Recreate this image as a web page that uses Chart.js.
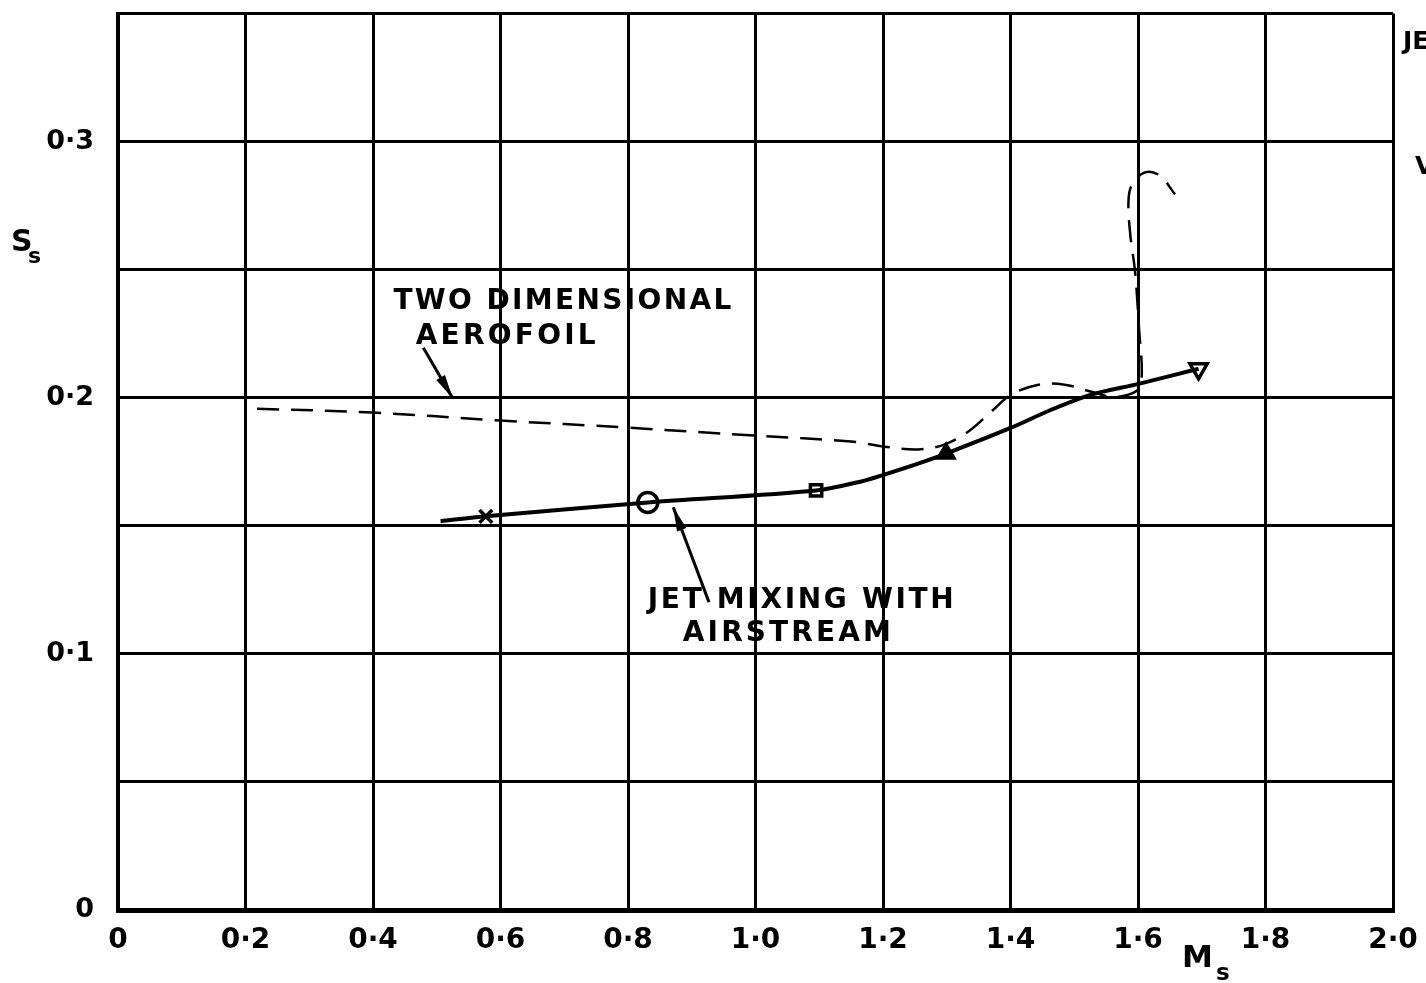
<!DOCTYPE html>
<html>
<head>
<meta charset="utf-8">
<title>Ss against Ms</title>
<script src="https://cdn.jsdelivr.net/npm/chart.js@4.4.1/dist/chart.umd.min.js"></script>
<style>
  html, body { margin: 0; padding: 0; background: #fff; }
  #wrap { width: 1426px; height: 983px; }
</style>
</head>
<body>
<div id="wrap"><canvas id="ssChart"></canvas></div>
<script>
// ---- data ----
// two dimensional aerofoil (dashed)
const aerofoilMs = [0.218, 0.399, 0.600, 0.800, 0.999, 1.150, 1.202, 1.255, 1.296, 1.334, 1.370, 1.401, 1.444, 1.485, 1.527, 1.559, 1.585, 1.601, 1.606, 1.602, 1.598, 1.595, 1.588, 1.585, 1.590, 1.610, 1.634, 1.658];
const aerofoilSs = [0.1957, 0.1942, 0.1911, 0.1883, 0.1852, 0.1829, 0.1809, 0.1798, 0.1817, 0.1868, 0.1946, 0.2012, 0.2051, 0.2051, 0.2023, 0.2004, 0.2012, 0.2035, 0.2101, 0.2257, 0.2412, 0.2502, 0.2634, 0.2763, 0.2829, 0.2879, 0.2868, 0.2794];

// jet mixing with airstream (solid)
const jetMs = [0.506, 0.577, 0.831, 1.095, 1.166, 1.202, 1.255, 1.299, 1.401, 1.464, 1.527, 1.601, 1.695];
const jetSs = [0.1518, 0.1537, 0.1591, 0.1638, 0.1673, 0.1700, 0.1743, 0.1782, 0.1883, 0.1953, 0.2012, 0.2054, 0.2113];

// test points along the jet curve
const testMs = [0.577, 0.831, 1.095, 1.299, 1.695];
const testSs = [0.1537, 0.1591, 0.1638, 0.1782, 0.2113];
const testSymbols = ['crossRot', 'circle', 'rect', 'triangle', 'triangle'];
const testRotation = [0, 0, 0, 0, 180];

const xTicks = [0, 0.2, 0.4, 0.6, 0.8, 1.0, 1.2, 1.4, 1.6, 1.8, 2.0];
const yTicks = [0, 0.1, 0.2, 0.3];

const pts = (xs, ys) => xs.map((x, i) => ({ x: x, y: ys[i] }));
const fmt = v => (Math.abs(v) < 1e-9 ? '0' : v.toFixed(1).replace('.', '·'));

const LETTER = '"DejaVu Sans", "Liberation Sans", sans-serif';

// text stretched out to a given width, like stencil lettering
function fitText(ctx, text, x, y, width, size) {
    ctx.font = 'bold ' + size + 'px ' + LETTER;
    ctx.letterSpacing = '0px';
    const w = ctx.measureText(text).width;
    const gap = text.length > 1 ? (width - w) / (text.length - 1) : 0;
    ctx.letterSpacing = gap + 'px';
    ctx.fillText(text, x, y);
    ctx.letterSpacing = '0px';
}

function arrow(ctx, x1, y1, x2, y2) {
    const a = Math.atan2(y2 - y1, x2 - x1);
    ctx.beginPath();
    ctx.moveTo(x1, y1);
    ctx.lineTo(x2, y2);
    ctx.lineWidth = 3;
    ctx.stroke();
    const L = 24, W = 5;
    ctx.beginPath();
    ctx.moveTo(x2, y2);
    ctx.lineTo(x2 - L * Math.cos(a) + W * Math.sin(a), y2 - L * Math.sin(a) - W * Math.cos(a));
    ctx.lineTo(x2 - L * Math.cos(a) - W * Math.sin(a), y2 - L * Math.sin(a) + W * Math.cos(a));
    ctx.closePath();
    ctx.fill();
}

// labels, arrows and axis names
const notes = {
    id: 'notes',
    afterDraw(chart) {
        const ctx = chart.ctx;
        const xs = chart.scales.x, ys = chart.scales.y;
        const X = v => xs.getPixelForValue(v), Y = v => ys.getPixelForValue(v);
        ctx.save();
        ctx.fillStyle = '#000';
        ctx.strokeStyle = '#000';
        ctx.textBaseline = 'alphabetic';
        ctx.textAlign = 'left';

        fitText(ctx, 'TWO DIMENSIONAL', X(0.432), Y(0.2346), 338, 28);
        fitText(ctx, 'AEROFOIL', X(0.467), Y(0.2210), 180, 28);
        arrow(ctx, X(0.479), Y(0.2195), X(0.525), Y(0.1998));

        fitText(ctx, 'JET MIXING WITH', X(0.831), Y(0.1179), 306, 28);
        fitText(ctx, 'AIRSTREAM', X(0.886), Y(0.1051), 208, 28);
        arrow(ctx, X(0.927), Y(0.1202), X(0.871), Y(0.1572));

        // axis names with subscripts
        ctx.font = 'bold 30px ' + LETTER;
        ctx.fillText('S', 11, 251);
        ctx.font = 'bold 22px ' + LETTER;
        ctx.fillText('s', 28, 263);
        ctx.font = 'bold 31px ' + LETTER;
        ctx.fillText('M', 1182, 967);
        ctx.font = 'bold 23px ' + LETTER;
        ctx.fillText('s', 1216, 980);

        // neighbouring lettering running off the sheet
        ctx.font = 'bold 25px ' + LETTER;
        ctx.fillText('JET', 1403, 49);
        ctx.fillText('V', 1415, 174);
        ctx.restore();
    }
};

const ctx = document.getElementById('ssChart').getContext('2d');
Chart.defaults.font.family = LETTER;
Chart.defaults.color = '#000';

const ssChart = new Chart(ctx, {
    type: 'scatter',
    data: {
        datasets: [
            {
                label: 'Two dimensional aerofoil',
                data: pts(aerofoilMs, aerofoilSs),
                showLine: true,
                borderColor: '#000',
                borderWidth: 2.5,
                borderDash: [22, 12],
                tension: 0.35,
                pointRadius: 0
            },
            {
                label: 'Jet mixing with airstream',
                data: pts(jetMs, jetSs),
                showLine: true,
                borderColor: '#000',
                borderWidth: 4,
                tension: 0.3,
                pointRadius: 0
            },
            {
                label: 'Test points',
                data: pts(testMs, testSs),
                showLine: false,
                pointStyle: testSymbols,
                rotation: testRotation,
                pointRadius: [9, 10, 8, 9, 10],
                borderWidth: 3.5,
                borderColor: '#000',
                backgroundColor: ['#fff', '#fff', '#fff', '#000', '#fff']
            }
        ]
    },
    options: {
        responsive: true,
        maintainAspectRatio: false,
        animation: false,
        layout: { padding: { top: 10, right: 33, left: 0, bottom: 0 } },
        plugins: {
            legend: { display: false },
            tooltip: { enabled: false }
        },
        scales: {
            x: {
                type: 'linear',
                min: 0,
                max: 2.0,
                afterFit(s) { s.height = 73; s.paddingLeft = 0; s.paddingRight = 0; },
                afterBuildTicks(s) { s.ticks = xTicks.map(v => ({ value: v })); },
                ticks: {
                    autoSkip: false,
                    maxRotation: 0,
                    padding: 14,
                    font: { size: 28, weight: 'bold' },
                    callback: v => fmt(v)
                },
                grid: { color: '#000', lineWidth: 3, drawTicks: false },
                border: { color: '#000', width: 5 }
            },
            y: {
                type: 'linear',
                min: 0,
                max: 0.35,
                afterFit(s) { s.width = 118; s.paddingTop = 0; s.paddingBottom = 0; },
                afterBuildTicks(s) { s.ticks = [0, 0.05, 0.1, 0.15, 0.2, 0.25, 0.3, 0.35].map(v => ({ value: v })); },
                ticks: {
                    autoSkip: false,
                    padding: 24,
                    font: { size: 27, weight: 'bold' },
                    callback: v => (yTicks.some(t => Math.abs(t - v) < 1e-6) ? fmt(v) : '')
                },
                grid: { color: '#000', lineWidth: 3, drawTicks: false },
                border: { color: '#000', width: 4 }
            }
        }
    },
    plugins: [notes]
});
</script>
</body>
</html>
